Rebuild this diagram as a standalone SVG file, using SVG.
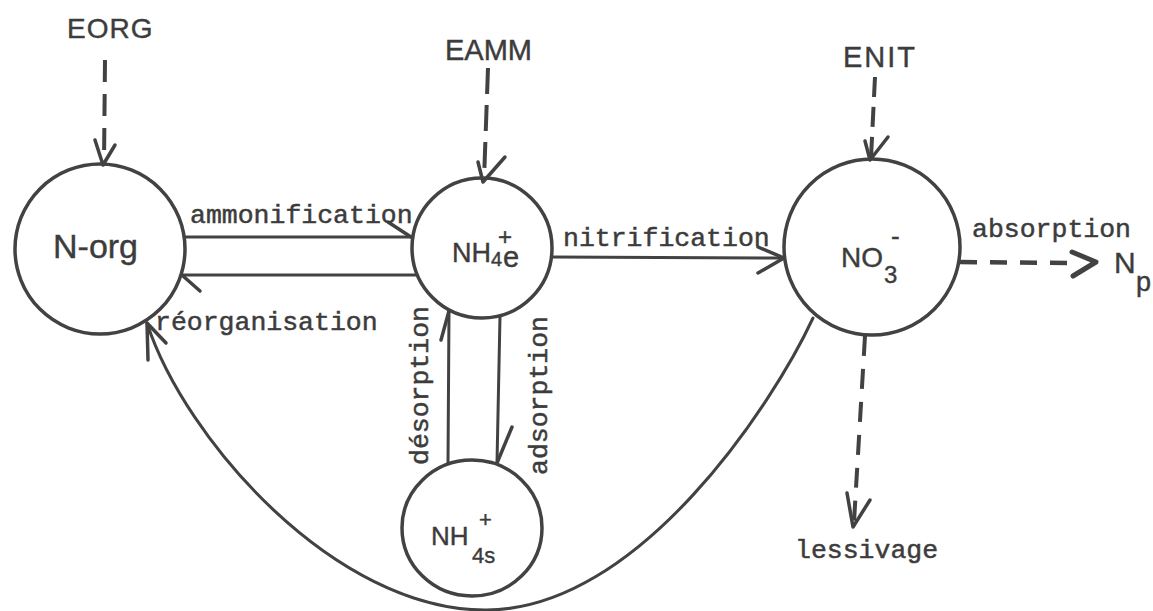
<svg xmlns="http://www.w3.org/2000/svg" width="1153" height="611" viewBox="0 0 1153 611">
<style>
.node{fill:none;stroke:#424242;stroke-width:3.5}
.ln{fill:none;stroke:#424242;stroke-width:3;stroke-linecap:round;stroke-linejoin:round}
.dash{fill:none;stroke:#424242;stroke-width:4;stroke-dasharray:22 12}
.ah{fill:none;stroke:#424242;stroke-width:3.5;stroke-linecap:round;stroke-linejoin:round}
.sans{font-family:"Liberation Sans",Arial,sans-serif;fill:#3c3c3c;stroke:#3c3c3c;stroke-width:0.4}
.mono{font-family:"Liberation Mono","Courier New",monospace;fill:#3c3c3c;stroke:#3c3c3c;stroke-width:0.5;font-size:26.5px}
</style>
<rect width="1153" height="611" fill="#ffffff"/>
<g id="connectors">
  <!-- EORG input -->
  <line class="dash" x1="105" y1="60" x2="104" y2="163"/>
  <polyline class="ah" points="95,140 103,165 115,145"/>
  <!-- EAMM input -->
  <line class="dash" x1="488" y1="68" x2="484" y2="180" style="stroke-dasharray:26 11"/>
  <polyline class="ah" points="478,162 483,182 505,157"/>
  <!-- ENIT input -->
  <line class="dash" x1="875" y1="77" x2="871" y2="158" style="stroke-dasharray:20 10"/>
  <polyline class="ah" points="865,141 870,160 888,137"/>
  <!-- ammonification -->
  <line class="ln" x1="185" y1="237" x2="411" y2="237"/>
  <polyline class="ah" points="388,222 411,237"/>
  <text class="mono" x="190" y="223">ammonification</text>
  <!-- réorganisation -->
  <line class="ln" x1="416" y1="275" x2="183" y2="275"/>
  <polyline class="ah" points="200,291 183,276"/>
  <text class="mono" x="155" y="330">réorganisation</text>
  <!-- nitrification -->
  <line class="ln" x1="552" y1="257" x2="784" y2="258"/>
  <polyline class="ah" points="758,247 784,258 758,273"/>
  <text class="mono" x="563" y="246">nitrification</text>
  <!-- absorption -->
  <line x1="960" y1="262" x2="1070" y2="263" style="fill:none;stroke:#424242;stroke-width:4.5;stroke-dasharray:17 13"/>
  <polyline points="1072,252 1096,262 1073,276" style="fill:none;stroke:#424242;stroke-width:5;stroke-linecap:round;stroke-linejoin:round"/>
  <text class="mono" x="972" y="237">absorption</text>
  <text class="sans"><tspan x="1114" y="273" font-size="30">N</tspan><tspan x="1136" y="291" font-size="27">p</tspan></text>
  <!-- lessivage -->
  <line class="dash" x1="865" y1="336" x2="854" y2="522" style="stroke-dasharray:20 13"/>
  <polyline class="ah" points="847,493 853,527 870,500"/>
  <text class="mono" x="795" y="558">lessivage</text>
  <!-- désorption (NH4s -> NH4e) -->
  <line class="ln" x1="448" y1="463" x2="449" y2="311"/>
  <polyline class="ah" points="441,340 449,311"/>
  <text class="mono" transform="translate(428,465) rotate(-90)" x="0" y="0">désorption</text>
  <!-- adsorption (NH4e -> NH4s) -->
  <line class="ln" x1="500" y1="316" x2="497" y2="463"/>
  <polyline class="ah" points="512,427 497,463"/>
  <text class="mono" transform="translate(547,475) rotate(-90)" x="0" y="0">adsorption</text>
  <!-- NO3 -> N-org loop -->
  <path class="ln" d="M813,318 C775,400 640,611 485,610 C335,610 185,440 147,323"/>
  <polyline class="ah" points="148,360 147,323 166,343"/>
</g>
<g id="inputs">
  <text class="sans" x="67" y="38" font-size="28" letter-spacing="1">EORG</text>
  <text class="sans" x="445" y="60" font-size="29">EAMM</text>
  <text class="sans" x="843" y="67" font-size="29" letter-spacing="2">ENIT</text>
</g>
<g id="node-norg">
  <circle class="node" cx="100" cy="249" r="85"/>
  <text class="sans" x="53" y="258" font-size="34">N-org</text>
</g>
<g id="node-nh4e">
  <circle class="node" cx="482" cy="248" r="70"/>
  <text class="sans"><tspan x="452" y="262" font-size="27">NH</tspan><tspan x="498" y="245" font-size="24">+</tspan><tspan x="491" y="266" font-size="20">4</tspan><tspan x="503" y="267" font-size="29">e</tspan></text>
</g>
<g id="node-no3">
  <circle class="node" cx="872" cy="247" r="88"/>
  <text class="sans"><tspan x="841" y="267" font-size="28">NO</tspan><tspan x="891" y="245" font-size="26">-</tspan><tspan x="884" y="283" font-size="24">3</tspan></text>
</g>
<g id="node-nh4s">
  <ellipse class="node" cx="472" cy="528" rx="70" ry="68"/>
  <text class="sans"><tspan x="431" y="545" font-size="26">NH</tspan><tspan x="479" y="527" font-size="22">+</tspan><tspan x="472" y="563" font-size="22">4s</tspan></text>
</g>
</svg>
